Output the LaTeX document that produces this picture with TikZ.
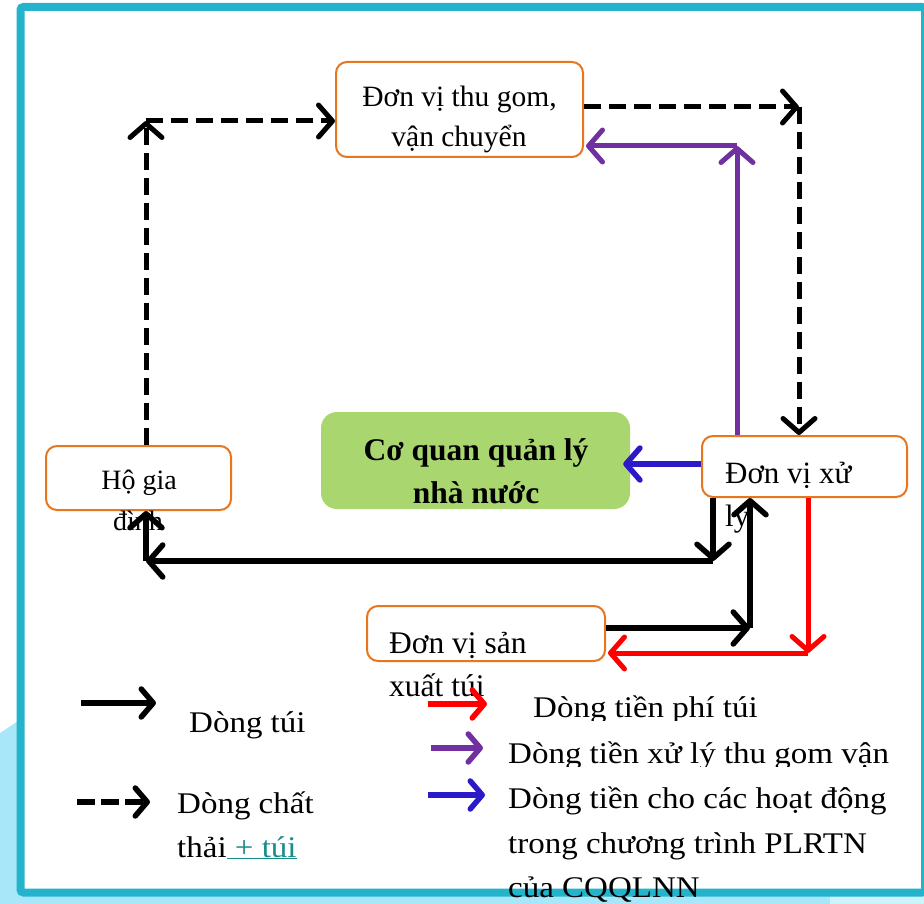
\documentclass[tikz,border=0pt]{standalone}
\usepackage{fontspec}
\setmainfont{Liberation Serif}
\newfontfamily\legfont[FakeStretch=1.1]{Liberation Serif}
\usetikzlibrary{arrows.meta}
\definecolor{frameC}{HTML}{23B3CB}
\definecolor{lblue}{HTML}{A8E7F9}
\definecolor{lblueB}{HTML}{CDF3FC}
\definecolor{orangeC}{HTML}{E8761E}
\definecolor{greenC}{HTML}{A9D66F}
\definecolor{purpleC}{HTML}{7030A0}
\definecolor{blueC}{HTML}{2C1AC8}
\definecolor{redC}{HTML}{FF0000}
\definecolor{tealC}{HTML}{1A8C8C}
\begin{document}
\begin{tikzpicture}[x=1pt,y=-1pt,
  box/.style={draw=orangeC, line width=2pt, rounded corners=11pt, fill=white, inner sep=0pt},
  gbox/.style={fill=greenC, rounded corners=16pt, inner sep=0pt},
  txt/.style={inner sep=0pt, anchor=base},
  txtw/.style={inner sep=0pt, anchor=base west},
  legt/.style={inner sep=0pt, anchor=base west, font=\legfont\fontsize{30}{34}\selectfont},
  dasharr/.style={line width=5pt, dash pattern=on 17pt off 8pt,
     -{Straight Barb[length=14pt,width=32pt,line width=5pt,round]}},
  blkarr/.style={line width=5.5pt,
     -{Straight Barb[length=14pt,width=32pt,line width=5.5pt,round]}},
  redarr/.style={draw=redC, line width=5pt,
     -{Straight Barb[length=14pt,width=32pt,line width=5pt,round]}},
  purarr/.style={draw=purpleC, line width=5pt,
     -{Straight Barb[length=14pt,width=32pt,line width=5pt,round]}},
  bluarr/.style={draw=blueC, line width=5.5pt,
     -{Straight Barb[length=14pt,width=32pt,line width=5.5pt,round]}},
  legblk/.style={line width=5.5pt,
     -{Straight Barb[length=12pt,width=28pt,line width=5.5pt,round]}},
  legdash/.style={line width=5.5pt, dash pattern=on 18pt off 6pt,
     -{Straight Barb[length=12pt,width=28pt,line width=5.5pt,round]}},
  legred/.style={draw=redC, line width=5.5pt,
     -{Straight Barb[length=12pt,width=28pt,line width=5.5pt,round]}},
  legpur/.style={draw=purpleC, line width=5.5pt,
     -{Straight Barb[length=12pt,width=28pt,line width=5.5pt,round]}},
  legblu/.style={draw=blueC, line width=5.5pt,
     -{Straight Barb[length=12pt,width=28pt,line width=5.5pt,round]}},
]
\useasboundingbox (0,0) rectangle (924,904);
\clip (0,0) rectangle (924,904);
% background
\fill[white] (0,0) rectangle (924,904);
\fill[lblue] (0,733) -- (30,713) -- (30,904) -- (0,904) -- cycle;
\fill[lblue] (0,890) rectangle (924,904);
\fill[lblueB] (830,890) rectangle (924,904);
% frame
\draw[draw=frameC, line width=8pt, fill=white, rounded corners=3pt] (20.5,7) rectangle (925,892.5);

% boxes
\node[box, minimum width=247pt, minimum height=95pt] (thu) at (459.5,109.5) {};
\node[box, minimum width=185pt, minimum height=64pt] (hg) at (138.5,478) {};
\node[gbox, minimum width=309pt, minimum height=97pt] (cq) at (475.5,460.5) {};
\node[box, minimum width=205pt, minimum height=61pt] (xl) at (804.5,466.5) {};
\node[box, minimum width=238pt, minimum height=55pt] (sx) at (486,633.5) {};

% box texts
\node[txt, font=\fontsize{29.5}{35}\selectfont] (thuA) at (459.5,107) {Đơn vị thu gom,};
\node[txt, font=\fontsize{29.5}{35}\selectfont] (thuB) at (459,147) {vận chuyển};
\node[txt, font=\fontsize{28}{34}\selectfont] (hgA) at (139,489) {Hộ gia};
\node[txt, font=\fontsize{28}{34}\selectfont] (hgB) at (138,530) {đình};
\node[txt, font=\bfseries\fontsize{31.5}{38}\selectfont] (cqA) at (476,460) {Cơ quan quản lý};
\node[txt, font=\bfseries\fontsize{31.5}{38}\selectfont] (cqB) at (476,503) {nhà nước};
\node[txtw, font=\fontsize{31}{37}\selectfont] (xlA) at (725,483) {Đơn vị xử};
\node[txtw, font=\fontsize{31}{37}\selectfont] (xlB) at (725,526) {lý};
\node[txtw, font=\fontsize{31.5}{37}\selectfont] (sxA) at (389,653) {Đơn vị sản};
\node[txtw, font=\fontsize{31.5}{37}\selectfont] (sxB) at (389,696) {xuất túi};

% corner coordinates
\coordinate (a1) at (146,121);
\coordinate (b1) at (799,107);
\coordinate (p1) at (737,146);
\coordinate (d1) at (702,464);
\coordinate (e1) at (713,561);
\coordinate (e2) at (146,561);
\coordinate (f1) at (750,628);
\coordinate (g1) at (808,653);

% dashed flows (chat thai + tui)
\draw[dasharr] (hg.north -| a1) -- (a1);
\draw[dasharr] (a1) -- (thu.west |- a1);
\draw[dasharr] (thu.east |- b1) -- (b1);
\draw[dasharr] (b1) -- (xl.north -| b1);
% purple
\draw[purarr] (xl.north -| p1) -- (p1);
\draw[purarr] (p1) -- ([xshift=2pt]thu.east |- p1);
% blue
\draw[bluarr, shorten >=-7pt] (xl.west |- d1) -- (cq.east |- d1);
% black bag flows
\draw[blkarr] (xl.south -| e1) -- (e1);
\draw[blkarr] (e1) -- (e2);
\draw[blkarr] (e2) -- (hg.south -| e2);
\draw[blkarr] (sx.east |- f1) -- (f1);
\draw[blkarr] (f1) -- (xl.south -| f1);
% red
\draw[redarr] (xl.south -| g1) -- (g1);
\draw[redarr] (g1) -- ([xshift=2pt]sx.east |- g1);

% legend
\coordinate (l1s) at (81,703);  \coordinate (l1e) at (156,703);
\coordinate (l2s) at (77,802);  \coordinate (l2e) at (150,802);
\coordinate (l3s) at (428,704); \coordinate (l3e) at (487,704);
\coordinate (l4s) at (431,748); \coordinate (l4e) at (483,748);
\coordinate (l5s) at (428,795); \coordinate (l5e) at (485,795);
\draw[legblk] (l1s) -- (l1e);
\draw[legdash] (l2s) -- (l2e);
\draw[legred] (l3s) -- (l3e);
\draw[legpur] (l4s) -- (l4e);
\draw[legblu] (l5s) -- (l5e);

\node[legt] (lg1) at (189,732) {Dòng túi};
\node[legt] (lg2a) at (177,813) {Dòng chất};
\node[legt] (lg2b) at (177,857) {thải\textcolor{tealC}{\underline{\ + túi}}};
\begin{scope}
  \clip (500,680) rectangle (910,720.5);
  \node[legt] (lg3) at (533,717) {Dòng tiền phí túi};
\end{scope}
\begin{scope}
  \clip (500,725) rectangle (910,766.5);
  \node[legt] (lg4) at (508,763) {Dòng tiền xử lý thu gom vận};
\end{scope}
\node[legt] (lg5a) at (508,808) {Dòng tiền cho các hoạt động};
\node[legt] (lg5b) at (508,853) {trong chương trình PLRTN};
\node[legt] (lg5c) at (508,897) {của CQQLNN};
\end{tikzpicture}
\end{document}
